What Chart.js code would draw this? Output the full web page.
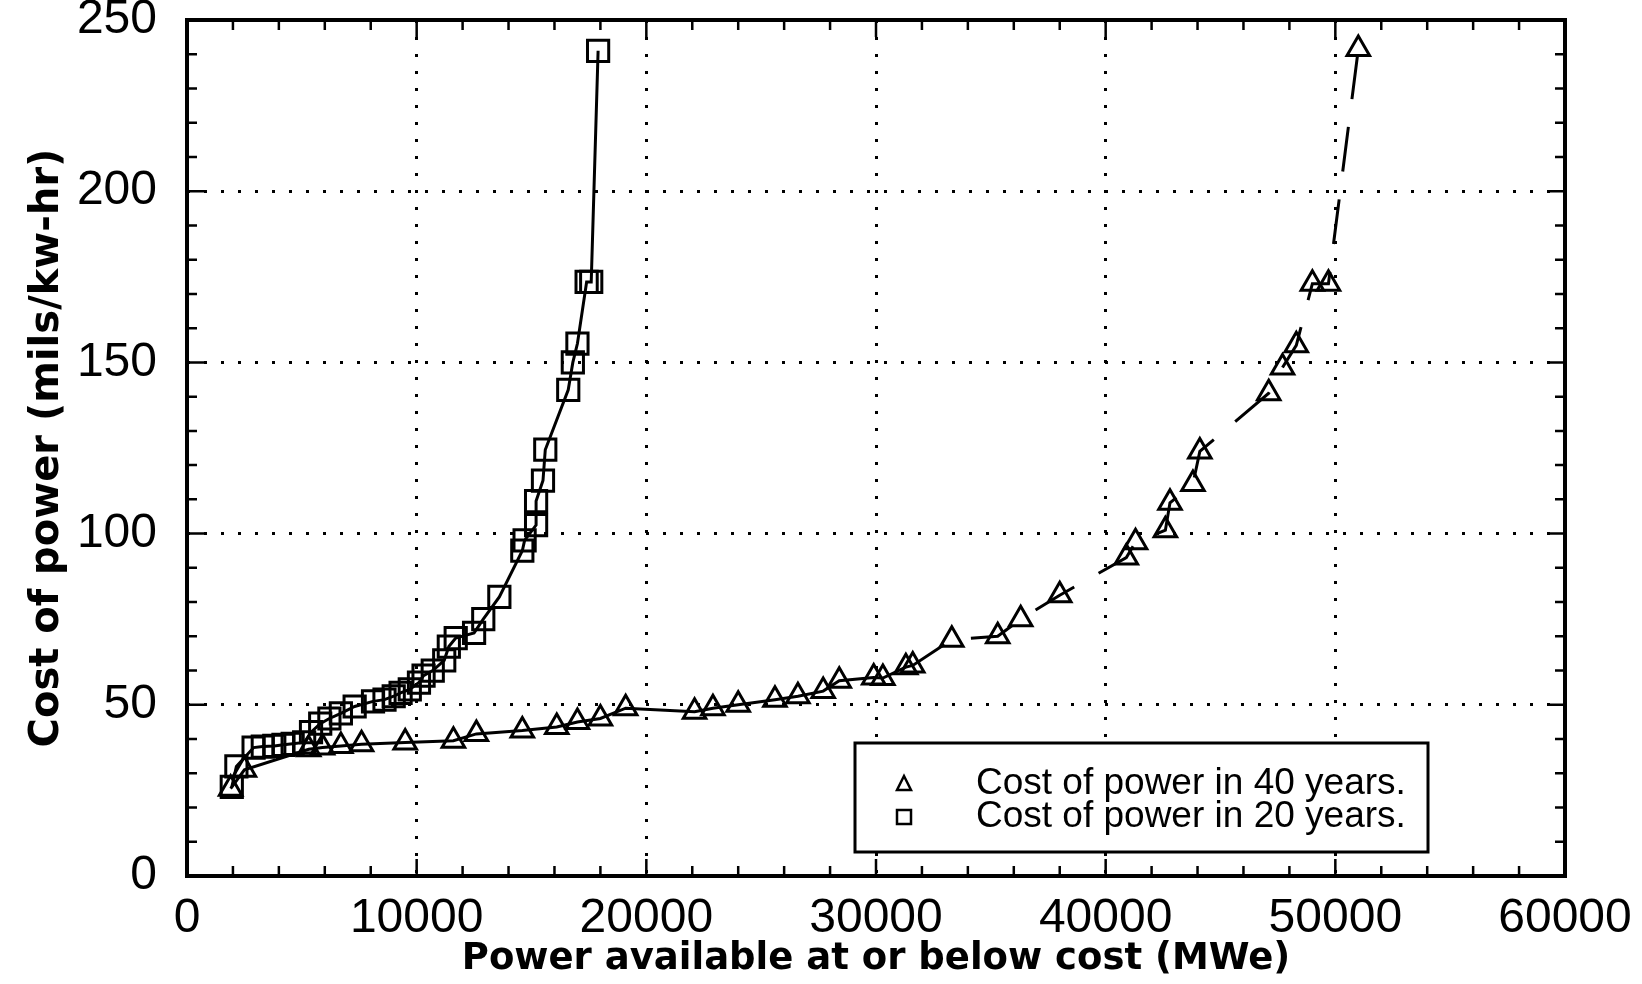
<!DOCTYPE html>
<html>
<head>
<meta charset="utf-8">
<title>Cost of power vs available power</title>
<script src="https://cdn.jsdelivr.net/npm/chart.js@4.4.1/dist/chart.umd.min.js"></script>
<style>
  html, body { margin: 0; padding: 0; background: #fff; }
  #wrap { width: 1642px; height: 984px; }
</style>
</head>
<body>
<div id="wrap"><canvas id="costChart" width="1642" height="984"></canvas></div>
<script>
// --- data ---
const power20 = [1950, 2150, 2900, 3300, 3800, 4200, 4600, 5100, 5400, 5800, 6200, 6700, 7300, 8100, 8600,
  9000, 9300, 9700, 10100, 10300, 10700, 11200, 11400, 11700, 12500, 12900, 13600, 14600, 14700, 15200,
  15200, 15500, 15600, 16600, 16800, 17000, 17400, 17600, 17900];
const cost20 = [26, 32, 37.5, 37.8, 38, 38.3, 38.6, 39, 42, 44.5, 46, 47.5, 49.5, 51, 51.5,
  52.5, 53.5, 54.5, 56.5, 58.5, 60, 63, 67, 69.5, 71, 75, 81.5, 95, 98, 102.5,
  109.5, 115.5, 124.5, 142, 150, 155.5, 173.5, 173.5, 241];

const power40 = [1900, 2500, 5300, 5900, 6700, 7600, 9500, 11600, 12600, 14600, 16100, 17000, 18000, 19100,
  22100, 22900, 24000, 25600, 26600, 27700, 28400, 29900, 30300, 31300, 31600, 33300, 35300, 36300, 38000,
  40900, 41300, 42600, 42800, 43800, 44100, 47100, 47700, 48300, 49000, 49700, 51000];
const cost40 = [25.5, 31, 37, 37.5, 38, 38.5, 39, 39.5, 41.5, 42.5, 43.5, 45, 46, 49,
  48, 49, 50, 51.5, 52.5, 54, 57, 58, 57.8, 61, 61.5, 69, 70, 75, 82,
  93, 97.5, 101, 109, 114.5, 124, 141, 148.5, 155, 173, 173, 241.5];

const xTicks = [0, 10000, 20000, 30000, 40000, 50000, 60000];
const yTicks = [0, 50, 100, 150, 200, 250];
const xMinorStep = 2000;
const yMinorStep = 10;

const xTitle = 'Power available at or below cost (MWe)';
const yTitle = 'Cost of power (mils/kw-hr)';
const legendLabels = ['Cost of power in 40 years.', 'Cost of power in 20 years.'];

const toPoints = (xs, ys) => xs.map((v, i) => ({ x: v, y: ys[i] }));

// --- frame with inward ticks on all four sides ---
const frameTicks = {
  id: 'frameTicks',
  afterDatasetsDraw(chart) {
    const { ctx, chartArea: a, scales: { x, y } } = chart;
    const xMax = xTicks[xTicks.length - 1];
    const yMax = yTicks[yTicks.length - 1];
    ctx.save();
    ctx.strokeStyle = '#000';
    ctx.lineWidth = 2.5;
    ctx.beginPath();
    for (let v = 0; v <= xMax; v += xMinorStep) {
      const px = x.getPixelForValue(v);
      const len = xTicks.includes(v) ? 17 : 10;
      ctx.moveTo(px, a.bottom); ctx.lineTo(px, a.bottom - len);
      ctx.moveTo(px, a.top); ctx.lineTo(px, a.top + len);
    }
    for (let v = 0; v <= yMax; v += yMinorStep) {
      const py = y.getPixelForValue(v);
      const len = yTicks.includes(v) ? 17 : 10;
      ctx.moveTo(a.left, py); ctx.lineTo(a.left + len, py);
      ctx.moveTo(a.right, py); ctx.lineTo(a.right - len, py);
    }
    ctx.stroke();
    ctx.lineWidth = 4;
    ctx.strokeRect(a.left, a.top, a.right - a.left, a.bottom - a.top);
    ctx.restore();
  }
};

// --- boxed legend in the lower right ---
const boxLegend = {
  id: 'boxLegend',
  afterDraw(chart) {
    const { ctx, chartArea: a } = chart;
    const left = a.left + 668, top = a.bottom - 133, w = 573, h = 109;
    ctx.save();
    ctx.fillStyle = '#fff';
    ctx.fillRect(left, top, w, h);
    ctx.strokeStyle = '#000';
    ctx.lineWidth = 3;
    ctx.strokeRect(left, top, w, h);

    const mx = left + 49;
    const rowY = [top + 41, top + 74];
    ctx.lineWidth = 2.5;
    // triangle
    ctx.beginPath();
    ctx.moveTo(mx, rowY[0] - 8);
    ctx.lineTo(mx + 7, rowY[0] + 6);
    ctx.lineTo(mx - 7, rowY[0] + 6);
    ctx.closePath();
    ctx.stroke();
    // square
    ctx.strokeRect(mx - 7, rowY[1] - 7, 14, 14);

    ctx.fillStyle = '#000';
    ctx.font = '37px "Liberation Sans", Arial, sans-serif';
    ctx.textBaseline = 'middle';
    ctx.textAlign = 'left';
    legendLabels.forEach((t, i) => ctx.fillText(t, left + 121, rowY[i]));
    ctx.restore();
  }
};

const gridColor = (maxVal) => (c) =>
  (c.tick && (c.tick.value === 0 || c.tick.value === maxVal)) ? 'rgba(0,0,0,0)' : '#000';

const ctx = document.getElementById('costChart').getContext('2d');
const costChart = new Chart(ctx, {
  type: 'scatter',
  data: {
    datasets: [
      {
        label: legendLabels[0],
        data: toPoints(power40, cost40),
        showLine: true,
        borderColor: '#000',
        borderWidth: 3,
        pointStyle: 'triangle',
        pointRadius: 13,
        pointBorderWidth: 3,
        pointBorderColor: '#000',
        pointBackgroundColor: 'rgba(0,0,0,0)',
        segment: {
          borderDash: (s) => s.p0.parsed.x >= 31000 ? [45, 28] : undefined
        }
      },
      {
        label: legendLabels[1],
        data: toPoints(power20, cost20),
        showLine: true,
        borderColor: '#000',
        borderWidth: 3,
        pointStyle: 'rect',
        pointRadius: 15,
        pointBorderWidth: 3,
        pointBorderColor: '#000',
        pointBackgroundColor: 'rgba(0,0,0,0)'
      }
    ]
  },
  options: {
    responsive: false,
    animation: false,
    layout: { padding: { left: 0, top: 20, right: 77, bottom: 0 } },
    plugins: {
      legend: { display: false },
      tooltip: { enabled: false }
    },
    scales: {
      x: {
        type: 'linear',
        min: xTicks[0],
        max: xTicks[xTicks.length - 1],
        afterBuildTicks: (s) => { s.ticks = xTicks.map(v => ({ value: v })); },
        afterFit: (s) => { s.height = 108; s.paddingLeft = 0; s.paddingRight = 0; },
        ticks: {
          color: '#000',
          padding: 14,
          maxRotation: 0,
          font: { family: '"Liberation Sans", Arial, sans-serif', size: 48 },
          callback: (v) => String(v)
        },
        grid: { color: gridColor(xTicks[xTicks.length - 1]), lineWidth: 3, drawTicks: false },
        border: { display: false, dash: [3, 14] },
        title: {
          display: true,
          text: xTitle,
          color: '#000',
          padding: { top: 0, bottom: 2 },
          font: { family: '"DejaVu Sans", sans-serif', size: 37, weight: 'bold' }
        }
      },
      y: {
        type: 'linear',
        min: yTicks[0],
        max: yTicks[yTicks.length - 1],
        afterBuildTicks: (s) => { s.ticks = yTicks.map(v => ({ value: v })); },
        afterFit: (s) => { s.width = 187; s.paddingTop = 0; s.paddingBottom = 0; },
        ticks: {
          color: '#000',
          padding: 30,
          font: { family: '"Liberation Sans", Arial, sans-serif', size: 48 },
          callback: (v) => String(v)
        },
        grid: { color: gridColor(yTicks[yTicks.length - 1]), lineWidth: 3, drawTicks: false },
        border: { display: false, dash: [3, 14] },
        title: {
          display: true,
          text: yTitle,
          color: '#000',
          padding: { top: 24, bottom: 0 },
          font: { family: '"DejaVu Sans", sans-serif', size: 40, weight: 'bold' }
        }
      }
    }
  },
  plugins: [frameTicks, boxLegend]
});
</script>
</body>
</html>
